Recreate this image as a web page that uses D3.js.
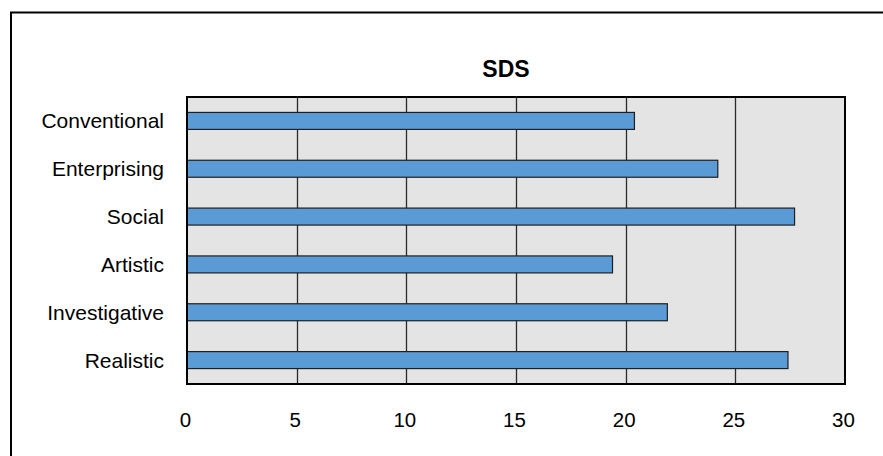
<!DOCTYPE html>
<html>
<head>
<meta charset="utf-8">
<script src="https://cdn.jsdelivr.net/npm/d3@7"></script>
<style>
  html, body { margin: 0; padding: 0; background: #ffffff; }
  svg { display: block; font-family: "Liberation Sans", Arial, sans-serif; }
</style>
</head>
<body>
<svg id="chart" width="883" height="456"></svg>
<script>
// SDS scores per interest type, top to bottom
const categories = ["Conventional", "Enterprising", "Social", "Artistic", "Investigative", "Realistic"];
const scores = [20.4, 24.2, 27.7, 19.4, 21.9, 27.4];
const xTicks = [0, 5, 10, 15, 20, 25, 30];
const chartTitle = "SDS";

const svg = d3.select("#chart");
const plot = { left: 187, right: 845, top: 97, bottom: 384 };

// outer frame (runs off the right and bottom edges)
svg.append("rect")
  .attr("x", 11).attr("y", 12.5)
  .attr("width", 890).attr("height", 460)
  .attr("fill", "none").attr("stroke", "#000").attr("stroke-width", 2);

const x = d3.scaleLinear().domain([0, 30]).range([plot.left, plot.right]);
const y = d3.scaleBand().domain(categories).range([plot.top, plot.bottom])
  .paddingInner(0.645).paddingOuter(0.3225);

// plot background
svg.append("rect")
  .attr("x", plot.left).attr("y", plot.top)
  .attr("width", plot.right - plot.left).attr("height", plot.bottom - plot.top)
  .attr("fill", "#e4e4e4");

// vertical gridlines
svg.append("g")
  .selectAll("line")
  .data(xTicks.slice(1, -1))
  .join("line")
  .attr("x1", d => Math.round(x(d)) + 0.5).attr("x2", d => Math.round(x(d)) + 0.5)
  .attr("y1", plot.top).attr("y2", plot.bottom)
  .attr("stroke", "#2b2b2b").attr("stroke-width", 1.3);

// bars
svg.append("g")
  .selectAll("rect")
  .data(categories.map((c, i) => ({ c, v: scores[i] })))
  .join("rect")
  .attr("x", x(0))
  .attr("y", d => y(d.c))
  .attr("width", d => x(d.v) - x(0))
  .attr("height", y.bandwidth())
  .attr("fill", "#5b9bd5")
  .attr("stroke", "#1f1f1f").attr("stroke-width", 1.2);

// plot frame
svg.append("rect")
  .attr("x", plot.left).attr("y", plot.top)
  .attr("width", plot.right - plot.left).attr("height", plot.bottom - plot.top)
  .attr("fill", "none").attr("stroke", "#000").attr("stroke-width", 2);

// x axis tick labels
const xAxis = d3.axisBottom(x).tickValues(xTicks).tickSize(0).tickPadding(0).tickFormat(d3.format("d"));
const gx = svg.append("g").attr("transform", `translate(-2, ${plot.bottom})`).call(xAxis);
gx.select(".domain").remove();
gx.selectAll("text")
  .attr("y", 43).attr("dy", null)
  .attr("font-size", 20.5).attr("font-family", "Liberation Sans, Arial, sans-serif")
  .attr("fill", "#000");

// category labels
const yAxis = d3.axisLeft(y).tickSize(0).tickPadding(0);
const gy = svg.append("g").attr("transform", `translate(164, 0)`).call(yAxis);
gy.select(".domain").remove();
gy.selectAll("text")
  .attr("dy", "0.36em")
  .attr("font-size", 21).attr("font-family", "Liberation Sans, Arial, sans-serif")
  .attr("fill", "#000");

// title
svg.append("text")
  .attr("x", 506).attr("y", 77)
  .attr("text-anchor", "middle")
  .attr("font-size", 23).attr("font-weight", "bold")
  .attr("fill", "#000")
  .text(chartTitle);
</script>
</body>
</html>
